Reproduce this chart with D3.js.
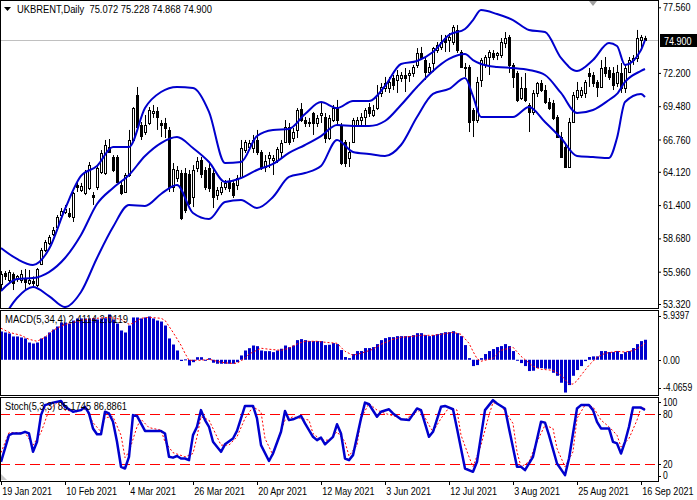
<!DOCTYPE html>
<html>
<head>
<meta charset="utf-8">
<script src="https://cdn.jsdelivr.net/npm/d3@7"></script>
<style>
body { margin: 0; background: #fff; }
text { font-family: "Liberation Sans", Arial, sans-serif; }
</style>
</head>
<body>
<div id="chart"></div>
<script>
// x axis dates, one label every 16 bars
var tickDates = ['19 Jan 2021', '10 Feb 2021', '4 Mar 2021', '26 Mar 2021', '20 Apr 2021', '12 May 2021',
    '3 Jun 2021', '12 Jul 2021', '3 Aug 2021', '25 Aug 2021', '16 Sep 2021'];
var tickIdx = [0, 16, 32, 48, 64, 80, 96, 112, 128, 144, 160];
var priceTicks = [77.56, 72.20, 69.48, 66.76, 64.12, 61.40, 58.68, 55.96, 53.32];
var lastPrice = 74.900;

// daily candles
var opens = [54.95,55.85,55.28,55.77,55.36,55.28,55.44,55.03,55.20,54.87,
    56.59,57.73,58.30,59.04,59.61,60.59,60.84,60.75,60.43,63.04,
    62.63,62.39,62.80,62.22,62.88,64.10,64.02,66.15,65.33,65.33,
    63.04,62.47,63.86,66.72,70.40,67.94,67.37,68.11,68.92,69.09,
    68.11,68.11,67.54,62.88,63.61,64.02,64.02,63.94,62.06,64.43,
    65.08,64.27,64.43,64.02,62.22,62.47,62.88,63.29,63.21,63.04,
    63.70,65.90,66.15,66.06,66.72,65.74,64.51,65.25,65.08,65.08,
    65.74,66.56,67.78,66.88,67.54,69.25,68.35,68.11,68.92,68.11,
    68.76,68.60,66.88,68.35,69.33,67.94,66.56,65.25,66.56,67.94,
    68.35,68.60,69.41,68.76,69.33,70.56,70.97,70.97,71.78,71.62,
    71.78,72.03,72.03,72.19,72.85,73.83,73.25,72.27,73.01,74.07,
    74.32,75.05,74.89,74.72,75.71,73.91,72.68,72.68,69.17,68.35,
    71.62,72.85,73.50,73.83,73.66,73.66,74.64,75.13,72.85,72.19,
    70.15,70.97,69.58,69.01,70.56,71.37,70.80,69.82,69.74,68.60,
    66.96,66.15,64.51,68.19,70.23,70.40,70.56,72.19,72.03,71.46,
    71.05,72.68,72.44,72.19,71.37,72.19,70.97,72.27,73.25,73.42,
    74.89,75.072];
var highs = [56.01,56.01,56.10,55.90,55.69,56.10,56.18,56.10,55.57,56.26,
    57.90,58.55,58.96,59.61,60.59,61.16,61.41,61.16,62.47,63.29,
    63.21,64.27,64.92,62.47,64.67,65.90,66.72,66.80,65.49,65.49,
    63.29,64.02,67.54,69.41,71.05,68.19,68.76,69.41,69.58,69.41,
    68.35,68.52,67.78,64.84,64.59,64.27,64.43,64.27,64.67,65.33,
    65.33,64.51,64.84,64.51,62.88,63.29,63.45,63.61,63.45,63.86,
    66.72,66.72,66.72,67.13,67.54,65.90,65.49,65.74,65.49,66.15,
    66.72,68.35,68.11,67.70,69.33,69.74,68.60,68.52,69.01,68.76,
    69.74,68.92,68.76,69.58,69.99,68.11,66.72,66.56,68.52,68.60,
    68.92,69.33,69.74,69.58,71.21,71.37,71.87,71.87,72.03,72.44,
    72.27,72.60,72.44,72.85,74.23,74.32,73.42,73.01,74.32,74.72,
    75.30,75.30,75.46,76.11,76.11,74.07,73.01,72.85,69.33,71.87,
    73.42,73.66,74.07,74.07,73.91,75.05,75.54,75.30,73.01,72.36,
    71.87,72.19,69.74,70.80,71.46,71.62,71.21,70.15,69.99,68.76,
    67.37,66.47,68.52,70.64,71.46,71.05,71.62,72.60,72.27,71.62,
    73.25,73.50,72.68,72.68,72.85,73.01,72.85,73.50,73.66,75.71,
    75.30,75.228];
var lows = [54.46,55.28,55.03,54.46,55.12,55.03,54.46,54.87,54.75,54.70,
    56.50,57.56,58.14,58.87,59.53,60.43,60.67,60.35,60.02,62.47,
    62.47,62.22,62.63,61.41,62.63,63.94,63.86,65.66,64.10,63.21,
    62.22,62.39,63.70,66.56,67.70,66.72,67.13,67.94,68.52,67.54,
    66.96,66.88,62.47,62.47,63.29,60.18,60.75,61.41,61.24,64.10,
    63.61,62.63,62.47,61.16,61.82,62.22,62.63,62.47,61.98,62.63,
    63.61,65.66,65.90,65.66,65.49,64.27,64.10,64.43,63.86,64.84,
    65.25,66.47,66.31,66.56,66.88,68.19,67.78,67.78,67.13,67.78,
    68.11,66.47,66.72,68.19,67.94,64.67,64.51,64.51,66.47,67.78,
    67.78,67.78,68.60,68.60,69.17,70.23,70.64,70.56,70.80,70.56,
    71.46,70.64,71.46,71.87,72.60,73.25,71.62,72.03,72.27,73.83,
    74.07,73.91,73.91,74.48,73.83,72.60,71.87,67.37,66.96,68.11,
    71.05,72.60,72.03,73.25,73.25,73.42,74.23,72.19,70.97,69.82,
    69.99,69.82,67.37,68.76,70.23,70.64,69.66,69.17,68.35,66.88,
    65.25,64.43,64.43,68.11,69.99,70.15,70.15,71.05,71.05,70.23,
    70.97,71.87,71.62,70.80,71.05,70.56,70.56,72.19,72.85,73.09,
    74.23,74.868];
var closes = [55.77,55.57,55.93,55.03,55.57,55.77,55.12,55.28,55.03,56.18,
    57.73,58.38,58.79,59.37,60.43,60.92,61.08,60.51,62.39,62.88,
    62.96,64.10,64.67,62.06,64.43,65.66,66.31,65.74,64.27,63.29,
    62.39,63.86,66.72,69.33,67.78,67.04,67.94,69.17,69.09,68.60,
    67.94,67.70,62.88,64.35,64.27,60.35,61.00,61.57,64.27,65.00,
    63.94,62.88,62.80,62.06,62.63,62.88,63.21,62.80,62.22,63.61,
    66.06,66.56,66.47,66.72,65.74,64.43,65.00,65.49,65.25,65.98,
    66.47,67.78,66.56,67.37,69.17,68.35,68.11,68.19,68.11,68.52,
    68.92,66.88,68.52,69.33,68.35,64.84,64.84,65.74,68.35,68.35,
    68.60,69.17,68.92,69.17,70.40,71.05,71.37,71.46,71.21,72.03,
    72.03,71.78,72.19,72.68,73.83,73.42,72.27,72.68,74.23,74.48,
    74.72,74.72,75.13,75.95,74.07,72.68,72.60,68.19,68.35,71.46,
    73.25,73.50,73.91,73.50,73.83,74.72,75.05,72.85,71.87,69.99,
    70.97,69.99,69.01,70.56,71.37,70.80,69.82,69.33,68.52,66.96,
    65.33,64.51,68.19,70.40,70.80,70.80,71.46,71.95,71.37,71.05,
    72.60,72.19,71.87,71.21,72.27,70.97,72.60,73.25,73.42,75.05,
    75.13,74.900];

// Bollinger bands at these bar indices
var bandIdx = [0,4,8,12,16,20,24,28,32,36,40,44,48,52,56,60,64,68,72,76,80,84,88,92,96,100,104,108,112,116,
    118,120,124,128,132,136,140,144,148,152,154,156,160,161];
var bandUpper = [57.90,57.00,56.51,57.81,61.08,63.78,64.59,66.15,66.15,69.33,
    70.64,71.05,70.97,69.01,64.84,64.92,67.04,67.54,67.62,68.84,
    69.82,69.33,69.91,69.91,71.13,72.93,73.17,73.91,75.30,75.79,
    76.52,77.34,77.01,76.52,75.71,75.54,73.42,72.36,73.25,74.64,74.40,72.85,74.07,74.89];
var bandMiddle = [54.38,55.36,55.44,55.93,57.08,58.96,61.49,62.80,63.86,65.41,
    66.47,66.96,66.06,64.92,63.29,63.61,64.27,64.76,65.66,66.31,
    67.04,67.94,67.86,67.86,68.27,69.58,71.05,72.36,73.34,73.74,
    73.25,72.93,72.68,72.60,72.44,72.03,70.56,68.92,69.17,69.99,70.48,71.46,72.36,72.52];
var bandLower = [51.85,53.81,54.71,53.97,53.07,54.30,57.08,59.61,61.41,61.33,
    62.31,63.04,60.75,60.26,61.65,61.82,61.16,62.06,63.70,64.02,
    64.59,66.72,65.74,65.57,65.41,66.31,68.60,70.48,70.89,71.78,
    70.31,68.60,68.60,68.60,69.41,68.19,66.88,65.41,65.33,65.25,66.88,69.82,70.48,70.23];

// MACD(5,34,4) histogram, one value per bar
var macdHist = [3.41,3.29,3.17,2.81,2.81,2.69,2.57,2.08,1.96,2.08,
    2.57,2.81,3.29,3.65,4.01,4.49,4.49,4.37,4.73,4.98,
    4.98,4.98,4.98,5.01,4.86,4.98,5.01,5.46,4.86,4.37,
    3.53,3.29,4.13,5.10,5.10,4.98,5.10,5.22,4.98,4.73,
    4.61,4.13,2.57,1.84,1.12,-0.15,0.05,-0.69,-0.29,0.31,
    0.31,-0.08,0.19,-0.36,-0.48,-0.48,-0.48,-0.48,-0.48,-0.29,
    0.52,1.12,1.40,1.72,1.64,1.12,1.04,1.04,0.92,1.12,
    1.33,1.72,1.52,1.72,2.37,2.49,2.37,2.25,2.25,2.25,
    2.25,1.77,1.81,2.01,1.89,1.17,0.33,0.20,0.69,1.05,
    1.05,1.41,1.41,1.53,1.89,2.37,2.61,2.73,2.73,2.85,
    2.85,2.85,2.85,2.97,3.21,3.21,2.97,2.85,2.97,3.09,
    3.21,3.33,3.33,3.45,3.21,2.85,1.77,0.20,-0.76,-0.64,
    0.20,0.69,1.05,1.29,1.53,1.65,1.89,1.65,1.05,-0.12,
    -0.40,-0.76,-1.36,-1.32,-1.00,-1.00,-1.08,-1.08,-1.57,-1.93,
    -2.77,-3.95,-3.05,-1.93,-1.24,-0.76,-0.16,0.33,0.41,0.41,
    1.05,1.05,0.93,0.93,1.05,0.69,0.93,1.05,1.41,1.89,
    2.25,2.4114];
// signal line [bar, value]
var macdSignal = [[0,3.80],[2,3.31],[5,2.95],[7,2.47],[9,2.23],[11,2.71],[13,3.55],[15,4.04],[17,4.40],[20,4.76],
    [24,5.00],[27,5.12],[30,4.88],[32,4.28],[33,4.40],[35,5.00],[37,5.12],[40,5.00],[41,4.76],[43,3.31],
    [45,1.75],[46,0.78],[47,-0.06],[50,-0.06],[52,0.06],[55,-0.30],[57,-0.42],[59,-0.42],[61,0.18],[62,0.69],
    [65,1.39],[67,1.27],[70,1.14],[72,1.39],[74,1.90],[76,2.23],[79,2.23],[81,2.11],[84,1.99],[86,1.02],
    [88,0.54],[90,0.78],[93,1.27],[95,1.87],[98,2.47],[100,2.71],[103,2.83],[105,2.95],[108,2.95],[110,3.07],
    [113,3.31],[115,3.07],[117,1.99],[118,1.02],[119,0.14],[120,-0.18],[123,0.18],[125,1.14],[128,1.51],[130,0.42],
    [133,-0.78],[135,-1.14],[138,-1.27],[140,-1.87],[142,-2.90],[143,-2.93],[144,-2.54],[145,-1.87],[147,-0.66],[149,0.30],
    [151,0.78],[154,1.02],[156,0.93],[158,1.10],[159,1.32],[160,1.65],[161,2.0119]];

// Stochastic(5,3,3) [bar, value]
var stochK = [[0,23],[2,55],[3,57],[5,57],[6,59],[7,57],[8,35],[9,47],[10,79],[11,91],[13,94],[15,96],[16,89],
    [18,83],[20,85],[21,89],[22,81],[23,63],[24,56],[25,56],[26,83],[27,81],[28,71],[29,47],[30,17],[31,15],
    [32,29],[33,79],[34,78],[36,60],[38,60],[40,60],[41,57],[42,29],[43,28],[44,30],[45,27],[46,27],[47,25],
    [48,55],[49,65],[50,85],[51,73],[52,65],[53,47],[55,35],[56,44],[58,51],[59,60],[60,75],[61,90],[63,90],
    [64,75],[65,43],[67,24],[68,33],[70,59],[71,84],[72,73],[73,74],[75,78],[76,69],[78,53],[79,49],[80,52],
    [81,44],[83,53],[84,68],[85,57],[86,27],[87,25],[88,31],[90,75],[91,94],[92,92],[94,77],[95,83],[97,86],
    [98,81],[100,74],[102,73],[104,87],[105,85],[107,53],[108,59],[110,89],[111,90],[113,86],[114,63],[116,15],
    [118,11],[119,23],[121,85],[123,97],[124,93],[126,87],[127,63],[129,17],[130,17],[131,13],[133,29],[135,71],
    [136,70],[137,55],[139,21],[141,7],[142,27],[144,87],[145,91],[147,91],[148,85],[149,71],[150,63],[152,63],
    [153,47],[154,45],[155,33],[156,47],[157,65],[158,88],[160,88],[161,85.1745]];
var stochD = [[0,34],[2,58],[6,58],[8,43],[10,58],[12,85],[14,94],[16,85],[19,83],[21,88],[23,70],[25,59],
    [26,76],[28,77],[30,55],[31,28],[32,35],[34,65],[35,74],[37,64],[40,61],[41,47],[43,34],[46,29],[48,33],
    [49,53],[50,77],[52,73],[54,53],[55,43],[57,43],[59,53],[61,75],[63,89],[65,83],[66,51],[68,31],[69,47],
    [71,73],[73,77],[75,75],[77,73],[78,57],[80,49],[82,49],[84,59],[86,47],[87,30],[89,43],[90,75],[92,93],
    [94,85],[96,81],[99,77],[101,73],[103,81],[105,85],[107,67],[108,59],[110,75],[112,88],[114,85],[115,55],
    [117,29],[118,17],[120,43],[122,79],[123,94],[125,91],[128,69],[129,35],[130,17],[132,23],[134,47],[136,67],
    [138,63],[139,39],[141,17],[143,35],[144,75],[146,91],[148,89],[150,73],[152,65],[154,55],[155,41],[157,51],
    [159,73],[160,88],[161,86.8861]];
var stochLevels = [80, 20];

var W = 697, H = 500, plotRight = 658;
var mainTop = 0, mainBottom = 308, macdTop = 310, macdBottom = 395, stochTop = 397, stochBottom = 481;
var blue = '#0000cd', red = '#ff0000';
var squeeze = 'scale(0.82,1)';   // narrow the text like the terminal font

var svg = d3.select('#chart').append('svg').attr('width', W).attr('height', H).style('display', 'block');
svg.append('rect').attr('width', W).attr('height', H).attr('fill', '#fff');

var x = d3.scaleLinear().domain([0, 160]).range([1, 641]);
var yMain = d3.scaleLinear().domain([53.32, 77.56]).range([304, 7.3]);
var yMacd = d3.scaleLinear().domain([-4.0659, 5.9397]).range([393.5, 310.5]);
var yStoch = d3.scaleLinear().domain([0, 100]).range([481, 397.6]);
var cx = i => Math.round(x(i)) + 0.5;

var defs = svg.append('defs');
[['clipMain', mainTop, mainBottom], ['clipMacd', macdTop, macdBottom], ['clipStoch', stochTop, stochBottom]].forEach(c => {
    defs.append('clipPath').attr('id', c[0]).append('rect')
        .attr('x', 1).attr('y', c[1] + 1).attr('width', plotRight - 1).attr('height', c[2] - c[1] - 1);
});

function label(x0, y0, str, size, fill) {
    return svg.append('g').attr('transform', `translate(${x0},${y0})`)
        .append('text').attr('transform', squeeze).attr('font-size', size || 11)
        .attr('fill', fill || '#000').style('white-space', 'pre').text(str);
}

// ---------- main window ----------
var main = svg.append('g').attr('clip-path', 'url(#clipMain)');
main.append('line').attr('x1', 0).attr('x2', plotRight).attr('y1', Math.round(yMain(lastPrice)) + 0.5)
    .attr('y2', Math.round(yMain(lastPrice)) + 0.5).attr('stroke', '#c0c0c0');

var idx = d3.range(opens.length);
main.selectAll('.wick').data(idx).enter().append('line').attr('class', 'wick')
    .attr('x1', cx).attr('x2', cx)
    .attr('y1', i => yMain(highs[i])).attr('y2', i => yMain(lows[i]))
    .attr('stroke', '#000').attr('stroke-width', 1);
main.selectAll('.body').data(idx).enter().append('rect').attr('class', 'body')
    .attr('x', i => cx(i) - 1).attr('width', 2)
    .attr('y', i => Math.round(yMain(Math.max(opens[i], closes[i]))) + 0.5)
    .attr('height', i => Math.max(1, Math.round(yMain(Math.min(opens[i], closes[i]))) - Math.round(yMain(Math.max(opens[i], closes[i])))))
    .attr('fill', i => closes[i] >= opens[i] ? '#fff' : '#000')
    .attr('stroke', '#000').attr('stroke-width', 1);

var bandLine = d3.line().x((d, k) => x(bandIdx[k])).y(d => yMain(d)).curve(d3.curveMonotoneX);
[bandUpper, bandMiddle, bandLower].forEach(arr => {
    main.append('path').datum(arr).attr('d', bandLine)
        .attr('fill', 'none').attr('stroke', blue).attr('stroke-width', 2);
});

// ---------- MACD window ----------
var macd = svg.append('g').attr('clip-path', 'url(#clipMacd)');
macd.selectAll('.bar').data(macdHist).enter().append('rect').attr('class', 'bar')
    .attr('x', (d, i) => cx(i) - 1.5).attr('width', 3)
    .attr('y', d => Math.min(yMacd(d), yMacd(0)))
    .attr('height', d => Math.max(1, Math.abs(yMacd(d) - yMacd(0))))
    .attr('fill', blue);
macd.append('path').datum(macdSignal)
    .attr('d', d3.line().x(d => x(d[0])).y(d => yMacd(d[1])))
    .attr('fill', 'none').attr('stroke', red).attr('stroke-width', 1).attr('stroke-dasharray', '2,2');

// ---------- Stochastic window ----------
var stoch = svg.append('g').attr('clip-path', 'url(#clipStoch)');
stoch.selectAll('.level').data(stochLevels).enter().append('line')
    .attr('x1', 0).attr('x2', plotRight)
    .attr('y1', d => Math.round(yStoch(d)) + 0.5).attr('y2', d => Math.round(yStoch(d)) + 0.5)
    .attr('stroke', red).attr('stroke-width', 1).attr('stroke-dasharray', '10,5');
stoch.append('path').datum(stochD)
    .attr('d', d3.line().x(d => x(d[0])).y(d => yStoch(d[1])))
    .attr('fill', 'none').attr('stroke', red).attr('stroke-width', 1).attr('stroke-dasharray', '2,2');
stoch.append('path').datum(stochK)
    .attr('d', d3.line().x(d => x(d[0])).y(d => yStoch(d[1])))
    .attr('fill', 'none').attr('stroke', blue).attr('stroke-width', 2.5).attr('stroke-linejoin', 'round');

// ---------- frames ----------
[[mainTop, mainBottom], [macdTop, macdBottom], [stochTop, stochBottom]].forEach(f => {
    svg.append('rect').attr('x', 0.5).attr('y', f[0] + 0.5).attr('width', plotRight).attr('height', f[1] - f[0])
        .attr('fill', 'none').attr('stroke', '#000').attr('stroke-width', 1);
});

// ---------- labels ----------
svg.append('path').attr('d', 'M4,7L11,7L7.5,11Z').attr('fill', '#000');
svg.append('text').attr('x', 17).attr('y', 12.5).attr('font-size', 11.5)
    .attr('textLength', 195).attr('lengthAdjust', 'spacingAndGlyphs')
    .text('UKBRENT,Daily  75.072 75.228 74.868 74.900').style('white-space', 'pre');
svg.append('path').attr('d', 'M589,1L597,1L593,6Z').attr('fill', '#a0a0a0');
svg.append('path').attr('d', 'M1,474L1,480L7,480Z').attr('fill', '#c8c8c8');

svg.append('text').attr('x', 5).attr('y', 323).attr('font-size', 11.5)
    .attr('textLength', 123).attr('lengthAdjust', 'spacingAndGlyphs').text('MACD(5,34,4) 2.4114 2.0119');
svg.append('text').attr('x', 5).attr('y', 410).attr('font-size', 11.5)
    .attr('textLength', 122).attr('lengthAdjust', 'spacingAndGlyphs').text('Stoch(5,3,3) 85.1745 86.8861');

// price axis
var gAx = svg.append('g').attr('transform', `translate(${plotRight},0)`)
    .call(d3.axisRight(yMain).tickValues(priceTicks).tickSize(3).tickPadding(2).tickFormat(d3.format('.3f')));
gAx.select('.domain').remove();
gAx.attr('font-family', null).attr('font-size', 11);
gAx.selectAll('text').attr('fill', '#000').attr('x', 6).attr('transform', squeeze);

var yLast = Math.round(yMain(lastPrice));
svg.append('rect').attr('x', 660).attr('y', yLast - 6).attr('width', 37).attr('height', 13).attr('fill', '#000');
label(664, yLast + 4.5, '74.900', 11, '#fff');

// MACD and Stoch scale labels
var sideLabels = [
    ['5.9397', yMacd(5.9397) + 5], ['0.00', yMacd(0) + 0.5], ['-4.0659', yMacd(-4.0659) - 6],
    ['100', yStoch(100) + 4.5], ['80', yStoch(80)], ['20', yStoch(20) - 0.5], ['0', yStoch(0) - 5.5]
];
sideLabels.forEach(d => label(663, d[1] + 3.8, d[0], 10.5));
svg.selectAll('.sidetick').data(sideLabels).enter().append('line')
    .attr('x1', plotRight).attr('x2', plotRight + 3)
    .attr('y1', d => Math.round(d[1]) + 0.5).attr('y2', d => Math.round(d[1]) + 0.5).attr('stroke', '#000');

// time axis
var gX = svg.append('g').attr('transform', `translate(0,${stochBottom})`)
    .call(d3.axisBottom(x).tickValues(tickIdx).tickSize(4).tickFormat((d, k) => tickDates[k]));
gX.select('.domain').remove();
gX.attr('font-family', null).attr('font-size', 11);
gX.selectAll('text').attr('text-anchor', 'start').attr('x', 1).attr('y', 6).attr('dy', '0.71em')
    .attr('fill', '#000').attr('transform', squeeze);
</script>
</body>
</html>
